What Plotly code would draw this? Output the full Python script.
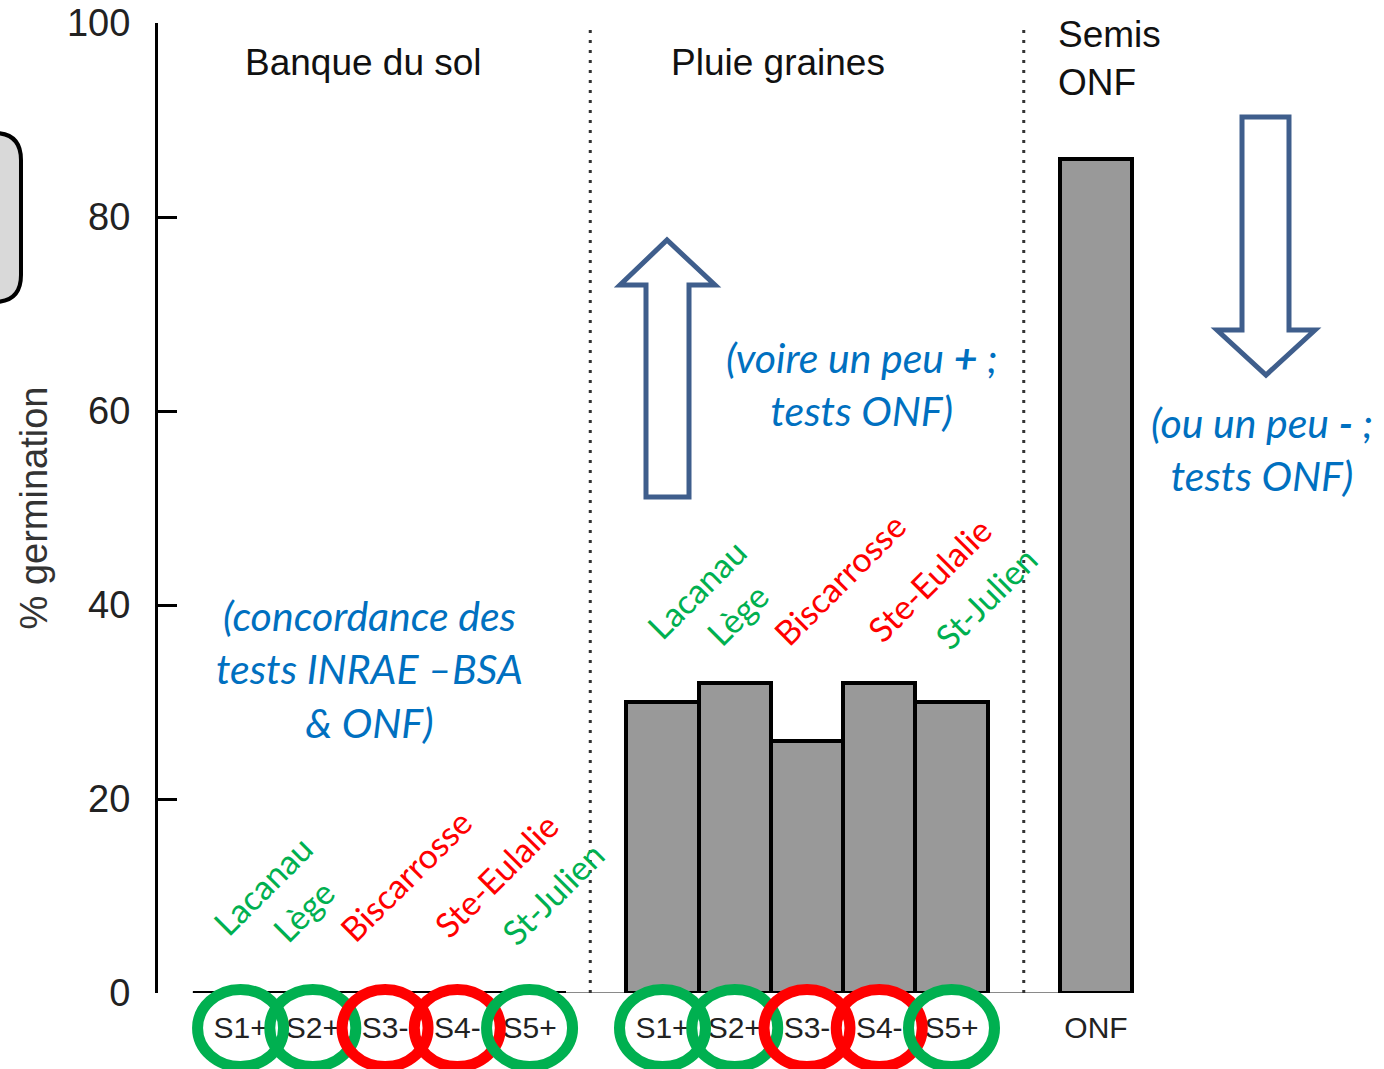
import plotly.graph_objects as go

# ---- data -------------------------------------------------------------
group_titles = ["Banque du sol", "Pluie graines", "Semis<br>ONF"]
sites = ["Lacanau", "Lège", "Biscarrosse", "Ste-Eulalie", "St-Julien"]
site_ok = [True, True, False, False, True]
sample_labels = ["S1+", "S2+", "S3-", "S4-", "S5+"]
soil_bank = [0, 0, 0, 0, 0]          # % germination, soil seed bank
seed_rain = [30, 32, 26, 32, 30]     # % germination, seed rain
onf_label = ["ONF"]
onf_sowing = [86]                    # % germination, ONF sowing
y_ticks = [0, 20, 40, 60, 80, 100]

# ---- layout helpers ---------------------------------------------------
W, H = 1384, 1069
L, T, B = 158, 23, 76
PLOT_W, PLOT_H = W - L, H - T - B
UNIT = 72.25                 # pixels per bar
X0_PX = 229                  # pixel position of x = 0
X_RANGE = [(L - X0_PX) / UNIT, (W - X0_PX) / UNIT]


def px_x(px):
    return (px - X0_PX) / UNIT


def px_y(py):
    return (H - B - py) / PLOT_H * 100


def paper_x(px):
    return (px - L) / PLOT_W


def paper_y(py):
    return (H - B - py) / PLOT_H


def paper_path(points, closed=True):
    d = "M " + " L ".join(f"{paper_x(x):.5f},{paper_y(y):.5f}" for x, y in points)
    return d + (" Z" if closed else "")


GREEN = "#00B050"
RED = "#FF0000"
BLUE_TXT = "#0070C0"
ARROW = "#3F5E8C"
SANS = "Liberation Sans, Arial, sans-serif"
HUMAN = "Lato, Open Sans, sans-serif"

soil_x = [i + 0.16 for i in range(5)]
rain_x = [6 + i for i in range(5)]
onf_x = [12]

fig = go.Figure()

bar_style = dict(marker=dict(color="#999999", line=dict(color="black", width=4)),
                 width=1, showlegend=False, hoverinfo="x+y")
fig.add_trace(go.Bar(x=soil_x, y=soil_bank, **bar_style))
fig.add_trace(go.Bar(x=rain_x, y=seed_rain, **bar_style))
fig.add_trace(go.Bar(x=onf_x, y=onf_sowing, **bar_style))

shapes = []
# grey baseline under all groups
shapes.append(dict(type="line", xref="x", yref="y", x0=-0.5, x1=onf_x[-1] + 0.5,
                   y0=0, y1=0, line=dict(color="#8a8a8a", width=2), layer="below"))
# zero-height soil bank bars show as a black edge
shapes.append(dict(type="line", xref="x", yref="y", x0=-0.5, x1=soil_x[-1] + 0.5,
                   y0=min(soil_bank), y1=min(soil_bank), line=dict(color="black", width=4)))
# dotted separators between groups
for xs in (5, 11):
    shapes.append(dict(type="line", xref="x", yref="y", x0=xs, x1=xs, y0=0, y1=px_y(28),
                       line=dict(color="#333333", width=3, dash="3px,7px")))

# hollow arrows
up_arrow = [(646, 497), (646, 285), (620, 285), (667, 240), (715, 285), (689, 285), (689, 497)]
down_arrow = [(1242, 117), (1289, 117), (1289, 330), (1315, 330), (1266, 375), (1217, 330), (1242, 330)]
for pts in (up_arrow, down_arrow):
    shapes.append(dict(type="path", xref="paper", yref="paper", path=paper_path(pts),
                       fillcolor="white", line=dict(color=ARROW, width=5)))

# rounded grey tab on the left edge
tab = (f"M {paper_x(-20):.5f},{paper_y(133):.5f} L {paper_x(-6):.5f},{paper_y(133):.5f} "
       f"Q {paper_x(21):.5f},{paper_y(133):.5f} {paper_x(21):.5f},{paper_y(160):.5f} "
       f"L {paper_x(21):.5f},{paper_y(275):.5f} "
       f"Q {paper_x(21):.5f},{paper_y(302):.5f} {paper_x(-6):.5f},{paper_y(302):.5f} "
       f"L {paper_x(-20):.5f},{paper_y(302):.5f} Z")
shapes.append(dict(type="path", xref="paper", yref="paper", path=tab,
                   fillcolor="#D9D9D9", line=dict(color="black", width=4)))

# rings around the sample labels
ring_w = 11
ring_half = (97 - ring_w) / 2 / UNIT
for xs_group in (soil_x, rain_x):
    for xc, ok in zip(xs_group, site_ok):
        shapes.append(dict(type="circle", xref="x", yref="paper",
                           x0=xc - ring_half, x1=xc + ring_half,
                           y0=paper_y(1066.5), y1=paper_y(989.5),
                           line=dict(color=GREEN if ok else RED, width=ring_w)))

annotations = []
# group headings
annotations.append(dict(x=px_x(363), y=px_y(62), text=group_titles[0], showarrow=False,
                        font=dict(family=SANS, size=37, color="#111111")))
annotations.append(dict(x=px_x(778), y=px_y(62), text=group_titles[1], showarrow=False,
                        font=dict(family=SANS, size=37, color="#111111")))
annotations.append(dict(x=px_x(1056), y=px_y(58), text=group_titles[2], showarrow=False,
                        xanchor="left", align="left",
                        font=dict(family=SANS, size=37, color="#111111")))

# site names, written diagonally above each group
site_centres = [(262, 885), (303, 910), (405, 875), (495, 875), (552, 893)]
for dx_group in (0, 433.5):
    for name, ok, (cx, cy) in zip(sites, site_ok, site_centres):
        annotations.append(dict(x=px_x(cx + dx_group), y=px_y(cy - (296 if dx_group else 0)),
                                text=name, showarrow=False, textangle=-45,
                                font=dict(family=HUMAN, size=34, color=GREEN if ok else RED)))

# comments in blue italics
note_font = dict(family=HUMAN, size=41, color=BLUE_TXT, style="italic")
annotations.append(dict(x=px_x(369), y=px_y(669),
                        text="(concordance des<br>tests INRAE –BSA<br>& ONF)",
                        showarrow=False, font=note_font))
annotations.append(dict(x=px_x(862), y=px_y(384),
                        text="(voire un peu <b>+</b> ;<br>tests ONF)",
                        showarrow=False, font=note_font))
annotations.append(dict(x=px_x(1262), y=px_y(449),
                        text="(ou un peu <b>-</b> ;<br>tests ONF)",
                        showarrow=False, font=note_font))

fig.update_layout(
    width=W, height=H,
    margin=dict(l=L, r=0, t=T, b=B, pad=0),
    plot_bgcolor="white", paper_bgcolor="white",
    bargap=0,
    shapes=shapes,
    annotations=annotations,
    xaxis=dict(range=X_RANGE, showgrid=False, zeroline=False, showline=False,
               tickvals=soil_x + rain_x + onf_x,
               ticktext=sample_labels + sample_labels + onf_label,
               ticks="", ticklabelstandoff=14,
               tickfont=dict(family=SANS, size=30, color="#222222")),
    yaxis=dict(range=[0, 100], showgrid=False, zeroline=False,
               showline=True, linecolor="black", linewidth=3,
               tickvals=y_ticks, ticks="inside", ticklen=19, tickwidth=3, tickcolor="black",
               ticklabelstandoff=17,
               tickfont=dict(family=SANS, size=38, color="#222222"),
               title=dict(text="% germination", standoff=8,
                          font=dict(family=SANS, size=38, color="#333333"))),
)

fig.write_html("out.html")
